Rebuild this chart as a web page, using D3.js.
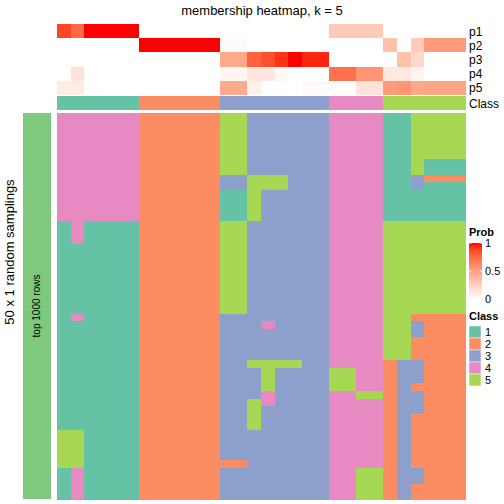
<!DOCTYPE html>
<html>
<head>
<meta charset="utf-8">
<script src="https://cdn.jsdelivr.net/npm/d3@7"></script>
<style>
  body { margin: 0; background: #fff; }
  svg { display: block; font-family: "Liberation Sans", Arial, Helvetica, sans-serif; }
</style>
</head>
<body>
<svg id="chart" width="504" height="504"></svg>
<script>
// ---- data ----
const probRows = ["p1", "p2", "p3", "p4", "p5"];
const p1 = [0.88,0.75,1,1,1,1, 0,0,0,0,0,0, 0,0,0,0,0,0,0,0, 0.28,0.28,0.28,0.28, 0,0,0,0,0,0];
const p2 = [0,0,0,0,0,0, 1,1,1,1,1,1, 0.02,0.02,0,0,0,0,0,0, 0,0,0,0, 0.33,0,0.28,0.52,0.52,0.52];
const p3 = [0,0,0,0,0,0, 0,0,0,0,0,0, 0.45,0.45,0.78,0.85,0.93,1,0.96,0.96, 0,0,0,0, 0,0.33,0.2,0,0,0];
const p4 = [0,0.15,0,0,0,0, 0,0,0,0,0,0, 0.05,0.05,0.13,0.13,0.04,0,0,0, 0.72,0.72,0.55,0.55, 0.12,0.12,0.05,0,0,0];
const p5 = [0.1,0.1,0,0,0,0, 0,0,0,0,0,0, 0.45,0.45,0.08,0,0,0,0.02,0.02, 0,0,0.15,0.15, 0.52,0.55,0.45,0.48,0.48,0.48];
const topClass = [1,1,1,1,1,1, 2,2,2,2,2,2, 3,3,3,3,3,3,3,3, 4,4,4,4, 5,5,5,5,5,5];
// 50 samplings (rows) x 30 columns, class labels
const samplings = [
  "444444222222553333334444115555",
  "444444222222553333334444115555",
  "444444222222553333334444115555",
  "444444222222553333334444115555",
  "444444222222553333334444115555",
  "444444222222553333334444115555",
  "444444222222553333334444115111",
  "444444222222553333334444115111",
  "444444222222335553334444113222",
  "444444222222335553334444113111",
  "444444222222115333334444111111",
  "444444222222115333334444111111",
  "444444222222115333334444111111",
  "444444222222115333334444111111",
  "141111222222553333334444555555",
  "141111222222553333334444555555",
  "141111222222553333334444555555",
  "111111222222553333334444555555",
  "111111222222553333334444555555",
  "111111222222553333334444555555",
  "111111222222553333334444555555",
  "111111222222553333334444555555",
  "111111222222553333334444555555",
  "111111222222553333334444555555",
  "111111222222553333334444555555",
  "111111222222553333334444555555",
  "141111222222333333334444552222",
  "111111222222333433334444553222",
  "111111222222333333334444553222",
  "111111222222333333334444552222",
  "111111222222333333334444552222",
  "111111222222333333334444552222",
  "111111222222335555334444233222",
  "111111222222333533335544233222",
  "111111222222333533335544233222",
  "111111222222333533335544232222",
  "111111222222333433334455233222",
  "111111222222335433334444233222",
  "111111222222335333334444233222",
  "111111222222335333334444232222",
  "111111222222335333334444232222",
  "551111222222333333334444232222",
  "551111222222333333334444232222",
  "551111222222333333334444232222",
  "551111222222333333334444232222",
  "551111222222223333334444232222",
  "141111222222333333334455233222",
  "141111222222333333334455233222",
  "141111222222333333334455232222",
  "141111222222333333334455232222"
];
const classLabels = ["1", "2", "3", "4", "5"];
const classColors = ["#66C2A5", "#FC8D62", "#8DA0CB", "#E78AC3", "#A6D854"];
const probTicks = [0, 0.5, 1];

// ---- drawing ----
const svg = d3.select("#chart");
const nCol = topClass.length;
const nRow = samplings.length;
const probData = [p1, p2, p3, p4, p5];

const x = d3.scaleBand().domain(d3.range(nCol)).range([57, 465]);
const yTop = d3.scaleBand().domain(probRows).range([24, 95]);
const yMain = d3.scaleBand().domain(d3.range(nRow)).range([113, 499]);
const probColor = d3.scaleLinear().domain([0, 1]).range(["#FFFFFF", "#FF0000"]).interpolate(d3.interpolateLab);
const classColor = d3.scaleOrdinal().domain(classLabels).range(classColors);

// title
svg.append("text").attr("x", 262).attr("y", 15).attr("text-anchor", "middle")
  .attr("font-size", 13).text("membership heatmap, k = 5");

// probability annotation
const gTop = svg.append("g").attr("shape-rendering", "crispEdges");
probRows.forEach((r, i) => {
  gTop.selectAll(null).data(probData[i]).enter().append("rect")
    .attr("x", (d, j) => x(j)).attr("width", x.bandwidth() + 0.5)
    .attr("y", yTop(r)).attr("height", yTop.bandwidth() + 0.3)
    .attr("fill", d => probColor(d));
  svg.append("text").attr("x", 469).attr("y", yTop(r) + yTop.bandwidth() / 2 + 4.5)
    .attr("font-size", 12).text(r);
});

// class annotation
gTop.selectAll(null).data(topClass).enter().append("rect")
  .attr("x", (d, j) => x(j)).attr("width", x.bandwidth() + 0.5)
  .attr("y", 96).attr("height", 14)
  .attr("fill", d => classColor(String(d)));
svg.append("text").attr("x", 469).attr("y", 107.5).attr("font-size", 12).text("Class");

// main heatmap
const cells = [];
samplings.forEach((row, i) => {
  row.split("").forEach((c, j) => cells.push({ i, j, c }));
});
svg.append("g").attr("shape-rendering", "crispEdges")
  .selectAll("rect").data(cells).enter().append("rect")
  .attr("x", d => x(d.j)).attr("width", x.bandwidth() + 0.5)
  .attr("y", d => yMain(d.i)).attr("height", yMain.bandwidth() + 0.5)
  .attr("fill", d => classColor(d.c));

// left row annotation bar
svg.append("rect").attr("x", 23).attr("y", 113).attr("width", 28).attr("height", 386)
  .attr("fill", "#7FC97F");
svg.append("text").attr("transform", "translate(40,306) rotate(-90)")
  .attr("text-anchor", "middle").attr("font-size", 10).text("top 1000 rows");
svg.append("text").attr("transform", "translate(14,252) rotate(-90)")
  .attr("text-anchor", "middle").attr("font-size", 13).text("50 x 1 random samplings");

// Prob legend
svg.append("text").attr("x", 469).attr("y", 236).attr("font-size", 11)
  .attr("font-weight", "bold").text("Prob");
const defs = svg.append("defs");
const grad = defs.append("linearGradient").attr("id", "pg")
  .attr("x1", 0).attr("y1", 1).attr("x2", 0).attr("y2", 0);
d3.range(0, 1.0001, 0.1).forEach(t => {
  grad.append("stop").attr("offset", t).attr("stop-color", probColor(t));
});
const yLeg = d3.scaleLinear().domain([0, 1]).range([299, 243]);
svg.append("rect").attr("x", 469).attr("y", yLeg(1)).attr("width", 13)
  .attr("height", yLeg(0) - yLeg(1)).attr("fill", "url(#pg)");
probTicks.forEach(t => {
  if (t > 0) {
    svg.append("line").attr("x1", 469).attr("x2", 471.5).attr("y1", yLeg(t)).attr("y2", yLeg(t))
      .attr("stroke", "#fff").attr("stroke-width", 1);
    svg.append("line").attr("x1", 479.5).attr("x2", 482).attr("y1", yLeg(t)).attr("y2", yLeg(t))
      .attr("stroke", "#fff").attr("stroke-width", 1);
  }
  svg.append("text").attr("x", 485).attr("y", yLeg(t) + 4).attr("font-size", 11)
    .text(t === 0.5 ? "0.5" : String(t));
});

// Class legend
svg.append("text").attr("x", 469).attr("y", 320).attr("font-size", 11)
  .attr("font-weight", "bold").text("Class");
classLabels.forEach((c, i) => {
  svg.append("rect").attr("x", 469).attr("y", 326 + i * 12).attr("width", 12).attr("height", 12)
    .attr("fill", classColor(c)).attr("stroke", "#fff").attr("stroke-width", 0.5);
  svg.append("text").attr("x", 485).attr("y", 336 + i * 12).attr("font-size", 11).text(c);
});
</script>
</body>
</html>
